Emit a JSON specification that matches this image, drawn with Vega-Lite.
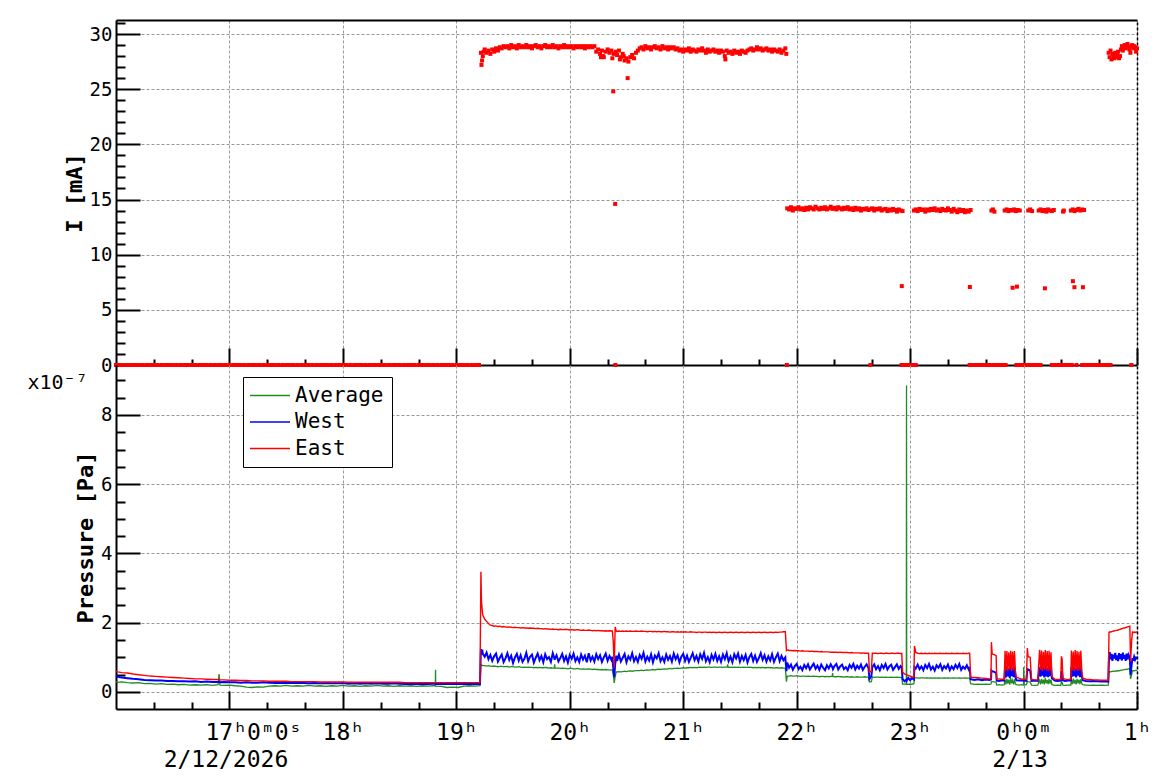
{
"$schema": "https://vega.github.io/schema/vega-lite/v6.json",
"padding": {"left": 27, "top": 20, "right": 0, "bottom": 0},
"config": {"view": {"stroke": null}, "font": "DejaVu Sans Mono",
  "axis": {"labelFont": "DejaVu Sans Mono", "titleFont": "DejaVu Sans Mono", "labelColor": "black", "titleColor": "black", "domainColor": "black", "tickColor": "black", "gridColor": "#999999", "gridDash": [3, 2], "gridWidth": 1, "tickWidth": 2, "domainWidth": 2}},
"datasets": {
"cur": [
{"m":0,"i":0},{"m":2,"i":0},{"m":4,"i":0},{"m":6,"i":0},{"m":8,"i":0},{"m":10,"i":0},{"m":12,"i":0},{"m":14,"i":0},{"m":16,"i":0},{"m":18,"i":0},{"m":20,"i":0},{"m":22,"i":0},{"m":24,"i":0},{"m":26,"i":0},{"m":28,"i":0},{"m":30,"i":0},{"m":32,"i":0},{"m":34,"i":0},{"m":36,"i":0},{"m":38,"i":0},{"m":40,"i":0},{"m":42,"i":0},{"m":44,"i":0},{"m":46,"i":0},{"m":48,"i":0},{"m":50,"i":0},{"m":52,"i":0},{"m":54,"i":0},{"m":56,"i":0},{"m":58,"i":0},{"m":60,"i":0},{"m":62,"i":0},{"m":64,"i":0},{"m":66,"i":0},{"m":68,"i":0},{"m":70,"i":0},{"m":72,"i":0},{"m":74,"i":0},{"m":76,"i":0},{"m":78,"i":0},{"m":80,"i":0},{"m":82,"i":0},{"m":84,"i":0},{"m":86,"i":0},{"m":88,"i":0},{"m":90,"i":0},{"m":92,"i":0},{"m":94,"i":0},{"m":96,"i":0},{"m":98,"i":0},{"m":100,"i":0},{"m":102,"i":0},{"m":104,"i":0},{"m":106,"i":0},{"m":108,"i":0},{"m":110,"i":0},{"m":112,"i":0},{"m":114,"i":0},{"m":116,"i":0},{"m":118,"i":0},{"m":120,"i":0},{"m":122,"i":0},{"m":124,"i":0},{"m":126,"i":0},{"m":128,"i":0},{"m":130,"i":0},{"m":132,"i":0},{"m":134,"i":0},{"m":136,"i":0},{"m":138,"i":0},{"m":140,"i":0},{"m":142,"i":0},{"m":144,"i":0},{"m":146,"i":0},{"m":148,"i":0},{"m":150,"i":0},{"m":152,"i":0},{"m":154,"i":0},{"m":156,"i":0},{"m":158,"i":0},{"m":160,"i":0},{"m":162,"i":0},{"m":164,"i":0},{"m":166,"i":0},{"m":168,"i":0},{"m":170,"i":0},{"m":172,"i":0},{"m":174,"i":0},{"m":176,"i":0},{"m":178,"i":0},{"m":180,"i":0},{"m":182,"i":0},{"m":184,"i":0},{"m":186,"i":0},{"m":188,"i":0},{"m":190,"i":0},{"m":192,"i":0},
{"m":193,"i":28.3},{"m":193.3,"i":27.2},{"m":193.6,"i":27.6},{"m":194,"i":28.0},{"m":194.5,"i":28.4},{"m":195,"i":28.6},{"m":196,"i":28.3},{"m":197,"i":28.5},{"m":198,"i":28.2},{"m":199,"i":28.6},{"m":200,"i":28.4},{"m":201,"i":28.7},{"m":202,"i":28.5},{"m":203,"i":28.8},{"m":204,"i":28.7},{"m":205,"i":28.9},{"m":206,"i":28.8},{"m":207,"i":28.9},{"m":208,"i":28.7},{"m":209,"i":29.0},{"m":210,"i":28.8},{"m":211,"i":28.9},{"m":212,"i":28.7},{"m":213,"i":29.0},{"m":214,"i":28.8},{"m":215,"i":28.9},{"m":216,"i":28.8},{"m":217,"i":29.0},{"m":218,"i":28.8},{"m":219,"i":28.9},{"m":220,"i":28.7},{"m":221,"i":28.9},{"m":222,"i":29.0},{"m":223,"i":28.8},{"m":224,"i":28.9},{"m":225,"i":28.7},{"m":226,"i":28.9},{"m":227,"i":29.0},{"m":228,"i":28.8},{"m":229,"i":28.9},{"m":230,"i":28.8},{"m":231,"i":29.0},{"m":232,"i":28.8},{"m":233,"i":28.9},{"m":234,"i":28.7},{"m":235,"i":28.9},{"m":236,"i":28.8},{"m":237,"i":29.0},{"m":238,"i":28.8},{"m":239,"i":28.9},{"m":240,"i":28.8},{"m":241,"i":28.9},{"m":242,"i":28.7},{"m":243,"i":28.9},{"m":244,"i":28.8},{"m":245,"i":28.9},{"m":246,"i":28.8},{"m":247,"i":28.9},{"m":248,"i":28.7},{"m":249,"i":28.9},{"m":250,"i":28.8},{"m":251,"i":28.9},{"m":252,"i":28.8},{"m":253,"i":28.9},
{"m":254,"i":28.4},{"m":255,"i":28.6},{"m":256,"i":28.2},{"m":256.5,"i":27.9},{"m":257,"i":28.5},{"m":257.5,"i":28.0},{"m":258,"i":27.9},{"m":259,"i":28.4},{"m":260,"i":28.6},{"m":261,"i":28.3},{"m":262,"i":28.5},{"m":262.5,"i":27.8},{"m":263,"i":24.8},{"m":263.2,"i":28.2},{"m":264,"i":14.6},{"m":264.1,"i":0},{"m":264.3,"i":28.4},{"m":265,"i":28.1},{"m":266,"i":28.5},{"m":266.5,"i":27.7},{"m":267,"i":27.9},{"m":268,"i":28.2},{"m":268.5,"i":28.0},{"m":269,"i":27.6},{"m":270,"i":27.8},{"m":270.6,"i":26.0},{"m":271,"i":27.5},{"m":272,"i":27.9},{"m":273,"i":28.1},{"m":274,"i":27.8},{"m":275,"i":28.3},{"m":276,"i":28.5},{"m":277,"i":28.7},{"m":278,"i":28.8},{"m":279,"i":28.6},{"m":280,"i":28.9},{"m":281,"i":28.7},{"m":282,"i":28.8},{"m":283,"i":28.6},{"m":284,"i":28.8},{"m":285,"i":28.9},{"m":286,"i":28.7},{"m":287,"i":28.8},{"m":288,"i":28.6},{"m":289,"i":28.9},{"m":290,"i":28.7},{"m":291,"i":28.8},{"m":292,"i":28.6},{"m":293,"i":28.8},{"m":294,"i":28.7},{"m":295,"i":28.8},{"m":296,"i":28.6},{"m":297,"i":28.7},{"m":298,"i":28.5},{"m":299,"i":28.6},{"m":300,"i":28.4},{"m":301,"i":28.6},{"m":302,"i":28.5},{"m":303,"i":28.7},{"m":304,"i":28.4},{"m":305,"i":28.6},{"m":306,"i":28.5},{"m":307,"i":28.4},{"m":308,"i":28.6},{"m":309,"i":28.5},{"m":310,"i":28.7},{"m":311,"i":28.5},{"m":312,"i":28.3},{"m":313,"i":28.6},{"m":314,"i":28.4},{"m":315,"i":28.5},{"m":316,"i":28.6},{"m":317,"i":28.4},{"m":318,"i":28.5},{"m":319,"i":28.3},{"m":320,"i":28.5},{"m":321,"i":28.4},{"m":322,"i":28.0},{"m":322.3,"i":27.7},{"m":323,"i":28.5},{"m":324,"i":28.3},{"m":325,"i":28.4},{"m":326,"i":28.2},{"m":327,"i":28.5},{"m":328,"i":28.3},{"m":329,"i":28.4},{"m":330,"i":28.2},{"m":331,"i":28.5},{"m":332,"i":28.4},{"m":333,"i":28.3},{"m":334,"i":28.5},{"m":335,"i":28.6},{"m":336,"i":28.7},{"m":337,"i":28.5},{"m":338,"i":28.6},{"m":339,"i":28.8},{"m":340,"i":28.6},{"m":341,"i":28.7},{"m":342,"i":28.5},{"m":343,"i":28.6},{"m":344,"i":28.7},{"m":345,"i":28.5},{"m":346,"i":28.6},{"m":347,"i":28.4},{"m":348,"i":28.6},{"m":349,"i":28.5},{"m":350,"i":28.4},{"m":351,"i":28.6},{"m":352,"i":28.3},{"m":353,"i":28.5},{"m":354,"i":28.7},{"m":354.5,"i":28.2},
{"m":354.8,"i":0},{"m":355,"i":14.2},{"m":356,"i":14.1},{"m":357,"i":14.3},{"m":358,"i":14.0},{"m":359,"i":14.2},{"m":360,"i":14.15},{"m":361,"i":14.3},{"m":362,"i":14.1},{"m":363,"i":14.2},{"m":364,"i":14.05},{"m":365,"i":14.25},{"m":366,"i":14.1},{"m":367,"i":14.3},{"m":368,"i":14.2},{"m":369,"i":14.1},{"m":370,"i":14.35},{"m":371,"i":14.2},{"m":372,"i":14.1},{"m":373,"i":14.25},{"m":374,"i":14.15},{"m":375,"i":14.3},{"m":376,"i":14.1},{"m":377,"i":14.2},{"m":378,"i":14.35},{"m":379,"i":14.15},{"m":380,"i":14.25},{"m":381,"i":14.1},{"m":382,"i":14.3},{"m":383,"i":14.2},{"m":384,"i":14.1},{"m":385,"i":14.25},{"m":386,"i":14.15},{"m":387,"i":14.3},{"m":388,"i":14.1},{"m":389,"i":14.2},{"m":390,"i":14.05},{"m":391,"i":14.25},{"m":392,"i":14.1},{"m":393,"i":14.2},{"m":394,"i":14.0},{"m":395,"i":14.15},{"m":396,"i":14.1},{"m":397,"i":14.2},{"m":398,"i":14.05},{"m":399,"i":0},{"m":399.5,"i":14.15},{"m":400,"i":14.2},{"m":401,"i":14.0},{"m":402,"i":14.15},{"m":403,"i":14.1},{"m":404,"i":14.2},{"m":405,"i":14.0},{"m":406,"i":14.1},{"m":407,"i":14.15},{"m":408,"i":13.95},{"m":409,"i":14.1},{"m":410,"i":14.0},{"m":411,"i":14.15},{"m":412,"i":14.05},{"m":413,"i":13.9},{"m":414,"i":14.1},{"m":415,"i":14.0},{"m":415.6,"i":7.15},{"m":416,"i":13.95},
{"m":415.5,"i":0},{"m":417,"i":0},{"m":418.5,"i":0},{"m":420,"i":0},{"m":421.5,"i":0},{"m":423,"i":0},
{"m":422,"i":14.0},{"m":423,"i":14.1},{"m":424,"i":13.95},{"m":425,"i":14.15},{"m":426,"i":14.05},{"m":427,"i":14.1},{"m":428,"i":13.9},{"m":429,"i":14.1},{"m":430,"i":14.0},{"m":431,"i":14.15},{"m":432,"i":14.05},{"m":433,"i":14.2},{"m":434,"i":14.0},{"m":435,"i":14.1},{"m":436,"i":13.95},{"m":437,"i":14.15},{"m":438,"i":14.05},{"m":439,"i":14.0},{"m":440,"i":14.2},{"m":441,"i":14.05},{"m":442,"i":13.9},{"m":443,"i":14.15},{"m":444,"i":14.0},{"m":445,"i":13.85},{"m":446,"i":14.1},{"m":447,"i":13.95},{"m":448,"i":14.05},{"m":449,"i":13.85},{"m":450,"i":14.0},{"m":451,"i":13.9},{"m":452,"i":14.05},{"m":451.6,"i":7.07},
{"m":451.5,"i":0},{"m":453,"i":0},{"m":454.5,"i":0},{"m":456,"i":0},{"m":457.5,"i":0},{"m":459,"i":0},{"m":460.5,"i":0},{"m":462,"i":0},{"m":463.5,"i":0},
{"m":463,"i":14.0},{"m":463.8,"i":14.1},{"m":464.6,"i":13.9},
{"m":465,"i":0},{"m":466.5,"i":0},{"m":468,"i":0},{"m":469.5,"i":0},{"m":470.5,"i":0},
{"m":470,"i":14.0},{"m":471,"i":14.1},{"m":472,"i":13.95},{"m":473,"i":14.05},{"m":474,"i":14.0},{"m":475,"i":14.1},{"m":476,"i":13.95},{"m":477,"i":14.05},{"m":478,"i":14.0},{"m":474.2,"i":7.0},{"m":476.5,"i":7.1},
{"m":476.2,"i":0},{"m":477.5,"i":0},{"m":479,"i":0},{"m":480.5,"i":0},{"m":482,"i":0},
{"m":482.5,"i":14.0},{"m":483.5,"i":14.1},{"m":484.5,"i":13.95},
{"m":483,"i":0},{"m":484.5,"i":0},{"m":486,"i":0},{"m":487.5,"i":0},{"m":489,"i":0},
{"m":488,"i":14.0},{"m":489,"i":14.1},{"m":490,"i":13.95},{"m":491,"i":14.05},{"m":492,"i":13.9},{"m":493,"i":14.1},{"m":494,"i":14.0},{"m":495,"i":13.95},{"m":496,"i":14.05},{"m":491.3,"i":6.95},
{"m":495,"i":0},{"m":496.5,"i":0},{"m":498,"i":0},{"m":499.5,"i":0},{"m":501,"i":0},{"m":502.5,"i":0},{"m":504,"i":0},{"m":505.5,"i":0},
{"m":500.9,"i":13.9},{"m":501.3,"i":14.0},
{"m":505,"i":14.0},{"m":506,"i":14.1},{"m":507,"i":13.95},{"m":508,"i":14.05},{"m":509,"i":14.15},{"m":510,"i":14.0},{"m":511,"i":14.1},{"m":512,"i":14.05},{"m":506.1,"i":7.6},{"m":506.9,"i":7.05},{"m":511.4,"i":7.05},
{"m":508,"i":0},{"m":511,"i":0},{"m":512.5,"i":0},{"m":514,"i":0},{"m":515.5,"i":0},{"m":517,"i":0},{"m":518.5,"i":0},{"m":520,"i":0},{"m":521.5,"i":0},{"m":523,"i":0},{"m":524.5,"i":0},{"m":526,"i":0},{"m":537,"i":0},
{"m":525,"i":28.3},{"m":525.5,"i":27.9},{"m":526,"i":28.5},{"m":526.5,"i":27.7},{"m":527,"i":28.2},{"m":527.5,"i":28.0},{"m":528,"i":27.8},{"m":528.5,"i":28.3},{"m":529,"i":27.9},{"m":529.5,"i":28.1},{"m":530,"i":28.4},{"m":530.5,"i":27.8},{"m":531,"i":28.0},{"m":531.5,"i":28.6},{"m":532,"i":28.9},{"m":532.5,"i":28.5},{"m":533,"i":28.8},{"m":533.5,"i":29.0},{"m":534,"i":28.7},{"m":534.5,"i":28.9},{"m":535,"i":29.1},{"m":535.5,"i":28.8},{"m":536,"i":28.6},{"m":536.5,"i":28.3},{"m":537,"i":28.9},{"m":537.5,"i":29.0},{"m":538,"i":28.7},{"m":538.5,"i":28.9},{"m":539,"i":28.8},{"m":539.5,"i":28.4},{"m":540,"i":28.7}
],
"p": [
{"m":0,"a":0.30,"w":0.47,"e":0.60},{"m":1,"a":0.28,"w":0.44,"e":0.58},{"m":3,"a":0.29,"w":0.42,"e":0.56},{"m":6,"a":0.27,"w":0.40,"e":0.55},{"m":9,"a":0.26,"w":0.38,"e":0.52},{"m":12,"a":0.27,"w":0.37,"e":0.50},{"m":15,"a":0.24,"w":0.35,"e":0.48},{"m":18,"a":0.25,"w":0.34,"e":0.46},{"m":21,"a":0.23,"w":0.33,"e":0.45},{"m":24,"a":0.24,"w":0.33,"e":0.44},{"m":27,"a":0.22,"w":0.32,"e":0.43},{"m":30,"a":0.23,"w":0.32,"e":0.42},{"m":33,"a":0.21,"w":0.31,"e":0.41},{"m":36,"a":0.22,"w":0.31,"e":0.40},{"m":39,"a":0.20,"w":0.30,"e":0.39},{"m":42,"a":0.21,"w":0.31,"e":0.38},{"m":45,"a":0.20,"w":0.29,"e":0.38},{"m":48,"a":0.21,"w":0.30,"e":0.37},{"m":51,"a":0.19,"w":0.29,"e":0.36},{"m":54,"a":0.21,"w":0.29,"e":0.36},{"m":54.5,"a":0.52,"w":0.30,"e":0.36},{"m":55,"a":0.20,"w":0.28,"e":0.35},{"m":57,"a":0.19,"w":0.29,"e":0.35},{"m":60,"a":0.20,"w":0.28,"e":0.34},{"m":63,"a":0.18,"w":0.28,"e":0.34},{"m":66,"a":0.17,"w":0.27,"e":0.33},{"m":69,"a":0.14,"w":0.28,"e":0.33},{"m":72,"a":0.13,"w":0.27,"e":0.32},{"m":75,"a":0.15,"w":0.27,"e":0.32},{"m":78,"a":0.14,"w":0.28,"e":0.32},{"m":81,"a":0.17,"w":0.27,"e":0.31},{"m":84,"a":0.18,"w":0.26,"e":0.31},{"m":87,"a":0.17,"w":0.27,"e":0.31},{"m":90,"a":0.19,"w":0.26,"e":0.31},{"m":93,"a":0.17,"w":0.26,"e":0.30},{"m":96,"a":0.18,"w":0.27,"e":0.30},{"m":99,"a":0.17,"w":0.26,"e":0.30},{"m":102,"a":0.19,"w":0.25,"e":0.30},{"m":105,"a":0.17,"w":0.26,"e":0.30},{"m":108,"a":0.18,"w":0.25,"e":0.29},{"m":111,"a":0.16,"w":0.26,"e":0.29},{"m":114,"a":0.18,"w":0.25,"e":0.29},{"m":117,"a":0.17,"w":0.25,"e":0.29},{"m":120,"a":0.19,"w":0.26,"e":0.29},{"m":123,"a":0.17,"w":0.24,"e":0.28},{"m":126,"a":0.18,"w":0.25,"e":0.28},{"m":129,"a":0.16,"w":0.24,"e":0.28},{"m":132,"a":0.18,"w":0.25,"e":0.28},{"m":135,"a":0.17,"w":0.24,"e":0.28},{"m":138,"a":0.19,"w":0.25,"e":0.28},{"m":141,"a":0.17,"w":0.24,"e":0.28},{"m":144,"a":0.18,"w":0.24,"e":0.28},{"m":147,"a":0.16,"w":0.25,"e":0.28},{"m":150,"a":0.18,"w":0.24,"e":0.28},{"m":153,"a":0.17,"w":0.23,"e":0.27},{"m":156,"a":0.18,"w":0.24,"e":0.27},{"m":159,"a":0.16,"w":0.23,"e":0.27},{"m":162,"a":0.18,"w":0.24,"e":0.27},{"m":165,"a":0.17,"w":0.23,"e":0.27},{"m":168,"a":0.18,"w":0.24,"e":0.27},{"m":168.9,"a":0.18,"w":0.24,"e":0.27},{"m":169,"a":0.64,"w":0.24,"e":0.27},{"m":169.1,"a":0.17,"w":0.23,"e":0.27},{"m":172,"a":0.16,"w":0.23,"e":0.27},{"m":175,"a":0.13,"w":0.24,"e":0.27},{"m":178,"a":0.14,"w":0.23,"e":0.27},{"m":181,"a":0.13,"w":0.23,"e":0.27},{"m":184,"a":0.17,"w":0.23,"e":0.27},{"m":187,"a":0.18,"w":0.24,"e":0.27},{"m":190,"a":0.17,"w":0.23,"e":0.27},{"m":192.5,"a":0.18,"w":0.23,"e":0.27},
{"m":193,"a":0.80,"w":1.24,"e":3.47},{"m":193.3,"a":0.78,"w":1.15,"e":2.63},{"m":193.8,"a":0.77,"w":1.18,"e":2.30},{"m":194,"a":0.76,"w":1.10,"e":2.22},{"m":195,"a":0.76,"w":1.02,"e":2.10},{"m":196,"a":0.75,"w":1.14,"e":2.04},{"m":197,"a":0.76,"w":0.95,"e":1.98},{"m":198,"a":0.75,"w":1.07,"e":1.93},{"m":199,"a":0.74,"w":0.90,"e":1.92},{"m":200,"a":0.75,"w":1.03,"e":1.90},{"m":201,"a":0.74,"w":1.11,"e":1.91},{"m":202,"a":0.73,"w":0.88,"e":1.89},{"m":203,"a":0.74,"w":0.99,"e":1.90},{"m":204,"a":0.74,"w":1.08,"e":1.88},{"m":205,"a":0.73,"w":0.86,"e":1.89},{"m":206,"a":0.73,"w":0.97,"e":1.88},{"m":207,"a":0.74,"w":1.12,"e":1.87},{"m":208,"a":0.72,"w":0.93,"e":1.88},{"m":209,"a":0.73,"w":1.05,"e":1.87},{"m":210,"a":0.73,"w":0.84,"e":1.86},{"m":211,"a":0.72,"w":1.00,"e":1.87},{"m":212,"a":0.72,"w":1.10,"e":1.86},{"m":213,"a":0.73,"w":0.91,"e":1.86},{"m":214,"a":0.72,"w":1.06,"e":1.85},{"m":215,"a":0.71,"w":0.87,"e":1.86},{"m":216,"a":0.72,"w":0.96,"e":1.85},{"m":217,"a":0.71,"w":1.13,"e":1.85},{"m":218,"a":0.72,"w":0.89,"e":1.84},{"m":219,"a":0.71,"w":1.02,"e":1.85},{"m":220,"a":0.71,"w":1.08,"e":1.84},{"m":221,"a":0.70,"w":0.85,"e":1.84},{"m":222,"a":0.71,"w":0.99,"e":1.83},{"m":223,"a":0.70,"w":1.11,"e":1.84},{"m":224,"a":0.71,"w":0.92,"e":1.83},{"m":225,"a":0.70,"w":1.04,"e":1.83},{"m":226,"a":0.70,"w":0.86,"e":1.82},{"m":227,"a":0.71,"w":1.09,"e":1.83},{"m":228,"a":0.70,"w":0.95,"e":1.82},{"m":229,"a":0.69,"w":1.01,"e":1.82},{"m":230,"a":0.70,"w":0.87,"e":1.81},{"m":231,"a":0.69,"w":1.12,"e":1.82},{"m":231.8,"a":0.69,"w":0.98,"e":1.81},{"m":232,"a":0.80,"w":0.93,"e":1.81},{"m":232.2,"a":0.69,"w":0.97,"e":1.81},{"m":233,"a":0.69,"w":1.06,"e":1.81},{"m":234,"a":0.69,"w":0.88,"e":1.80},{"m":235,"a":0.68,"w":0.98,"e":1.81},{"m":236,"a":0.69,"w":1.10,"e":1.80},{"m":237,"a":0.68,"w":0.90,"e":1.80},{"m":238,"a":0.68,"w":1.03,"e":1.81},{"m":239,"a":0.67,"w":0.85,"e":1.80},{"m":240,"a":0.68,"w":1.07,"e":1.79},{"m":241,"a":0.68,"w":0.96,"e":1.80},{"m":242,"a":0.67,"w":1.11,"e":1.79},{"m":243,"a":0.67,"w":0.89,"e":1.79},{"m":244,"a":0.68,"w":1.00,"e":1.80},{"m":245,"a":0.67,"w":0.87,"e":1.79},{"m":246,"a":0.66,"w":1.08,"e":1.78},{"m":247,"a":0.67,"w":0.94,"e":1.79},{"m":248,"a":0.66,"w":1.05,"e":1.78},{"m":249,"a":0.66,"w":0.86,"e":1.78},{"m":250,"a":0.67,"w":1.12,"e":1.79},{"m":251,"a":0.66,"w":0.91,"e":1.78},{"m":252,"a":0.65,"w":1.02,"e":1.77},{"m":253,"a":0.66,"w":0.88,"e":1.78},{"m":254,"a":0.65,"w":1.09,"e":1.77},{"m":255,"a":0.65,"w":0.95,"e":1.78},{"m":256,"a":0.64,"w":1.06,"e":1.77},{"m":257,"a":0.65,"w":0.87,"e":1.77},{"m":258,"a":0.64,"w":1.00,"e":1.76},{"m":259,"a":0.65,"w":1.11,"e":1.77},{"m":260,"a":0.64,"w":0.90,"e":1.76},{"m":261,"a":0.64,"w":1.04,"e":1.77},{"m":262,"a":0.63,"w":0.93,"e":1.76},{"m":262.5,"a":0.64,"w":1.02,"e":1.76},{"m":263,"a":0.50,"w":0.70,"e":1.47},{"m":263.5,"a":0.26,"w":0.43,"e":0.70},{"m":264,"a":0.45,"w":0.80,"e":1.88},{"m":264.6,"a":0.58,"w":1.05,"e":1.76},{"m":265,"a":0.58,"w":0.90,"e":1.75},{"m":266,"a":0.59,"w":1.08,"e":1.76},{"m":267,"a":0.58,"w":0.88,"e":1.75},{"m":268,"a":0.59,"w":0.99,"e":1.76},{"m":269,"a":0.60,"w":1.10,"e":1.75},{"m":270,"a":0.59,"w":0.86,"e":1.76},{"m":271,"a":0.60,"w":1.03,"e":1.75},{"m":272,"a":0.61,"w":0.94,"e":1.76},{"m":273,"a":0.60,"w":1.12,"e":1.75},{"m":274,"a":0.61,"w":0.89,"e":1.75},{"m":275,"a":0.62,"w":1.01,"e":1.76},{"m":276,"a":0.62,"w":0.87,"e":1.75},{"m":277,"a":0.62,"w":1.07,"e":1.75},{"m":278,"a":0.63,"w":0.96,"e":1.76},{"m":279,"a":0.62,"w":1.13,"e":1.75},{"m":280,"a":0.63,"w":0.88,"e":1.75},{"m":281,"a":0.64,"w":1.02,"e":1.74},{"m":282,"a":0.63,"w":0.91,"e":1.75},{"m":283,"a":0.64,"w":1.09,"e":1.75},{"m":284,"a":0.65,"w":0.86,"e":1.74},{"m":285,"a":0.64,"w":1.05,"e":1.75},{"m":286,"a":0.65,"w":0.97,"e":1.74},{"m":287,"a":0.66,"w":1.12,"e":1.75},{"m":288,"a":0.65,"w":0.89,"e":1.74},{"m":289,"a":0.66,"w":1.00,"e":1.74},{"m":290,"a":0.67,"w":0.87,"e":1.75},{"m":291,"a":0.66,"w":1.08,"e":1.74},{"m":292,"a":0.67,"w":0.93,"e":1.74},{"m":293,"a":0.68,"w":1.04,"e":1.73},{"m":294,"a":0.67,"w":0.88,"e":1.74},{"m":295,"a":0.68,"w":1.11,"e":1.74},{"m":296,"a":0.68,"w":0.95,"e":1.73},{"m":297,"a":0.69,"w":1.06,"e":1.74},{"m":298,"a":0.68,"w":0.86,"e":1.73},{"m":299,"a":0.69,"w":1.02,"e":1.74},{"m":300,"a":0.70,"w":1.10,"e":1.73},{"m":301,"a":0.69,"w":0.90,"e":1.74},{"m":302,"a":0.70,"w":1.05,"e":1.73},{"m":303,"a":0.70,"w":0.87,"e":1.73},{"m":304,"a":0.71,"w":0.99,"e":1.74},{"m":305,"a":0.70,"w":1.12,"e":1.73},{"m":306,"a":0.71,"w":0.92,"e":1.73},{"m":307,"a":0.70,"w":1.04,"e":1.72},{"m":308,"a":0.71,"w":0.88,"e":1.73},{"m":309,"a":0.72,"w":1.09,"e":1.73},{"m":310,"a":0.71,"w":0.96,"e":1.72},{"m":311,"a":0.72,"w":1.13,"e":1.73},{"m":312,"a":0.71,"w":0.89,"e":1.73},{"m":313,"a":0.72,"w":1.01,"e":1.72},{"m":314,"a":0.72,"w":0.86,"e":1.73},{"m":315,"a":0.71,"w":1.07,"e":1.72},{"m":316,"a":0.72,"w":0.94,"e":1.73},{"m":317,"a":0.72,"w":1.10,"e":1.72},{"m":318,"a":0.71,"w":0.90,"e":1.72},{"m":319,"a":0.72,"w":1.03,"e":1.73},{"m":320,"a":0.72,"w":0.87,"e":1.72},{"m":321,"a":0.71,"w":1.08,"e":1.72},{"m":322,"a":0.72,"w":0.95,"e":1.73},{"m":323,"a":0.72,"w":1.12,"e":1.72},{"m":323.3,"a":0.72,"w":1.04,"e":1.72},{"m":323.5,"a":0.80,"w":1.00,"e":1.72},{"m":323.7,"a":0.72,"w":0.95,"e":1.72},{"m":324,"a":0.71,"w":0.89,"e":1.72},{"m":325,"a":0.72,"w":1.02,"e":1.73},{"m":326,"a":0.71,"w":0.86,"e":1.72},{"m":327,"a":0.72,"w":1.09,"e":1.72},{"m":328,"a":0.71,"w":0.97,"e":1.73},{"m":329,"a":0.72,"w":1.11,"e":1.72},{"m":330,"a":0.71,"w":0.88,"e":1.72},{"m":331,"a":0.71,"w":1.04,"e":1.73},{"m":332,"a":0.72,"w":0.92,"e":1.72},{"m":333,"a":0.71,"w":1.07,"e":1.72},{"m":334,"a":0.71,"w":0.85,"e":1.73},{"m":335,"a":0.72,"w":1.01,"e":1.72},{"m":336,"a":0.71,"w":1.10,"e":1.72},{"m":337,"a":0.70,"w":0.90,"e":1.73},{"m":338,"a":0.71,"w":1.05,"e":1.72},{"m":339,"a":0.70,"w":0.87,"e":1.72},{"m":340,"a":0.71,"w":0.98,"e":1.73},{"m":341,"a":0.70,"w":1.12,"e":1.72},{"m":342,"a":0.71,"w":0.93,"e":1.72},{"m":343,"a":0.70,"w":1.06,"e":1.73},{"m":344,"a":0.70,"w":0.88,"e":1.72},{"m":345,"a":0.71,"w":1.03,"e":1.72},{"m":346,"a":0.70,"w":0.91,"e":1.73},{"m":347,"a":0.70,"w":1.09,"e":1.72},{"m":348,"a":0.69,"w":0.87,"e":1.72},{"m":349,"a":0.70,"w":1.00,"e":1.73},{"m":350,"a":0.70,"w":1.11,"e":1.72},{"m":351,"a":0.69,"w":0.89,"e":1.73},{"m":352,"a":0.70,"w":1.04,"e":1.73},{"m":353,"a":0.69,"w":0.92,"e":1.74},{"m":354,"a":0.69,"w":1.00,"e":1.74},
{"m":354.6,"a":0.30,"w":0.60,"e":1.20},{"m":355,"a":0.46,"w":0.85,"e":1.22},{"m":356,"a":0.46,"w":0.70,"e":1.20},{"m":357,"a":0.47,"w":0.79,"e":1.20},{"m":358,"a":0.46,"w":0.64,"e":1.19},{"m":359,"a":0.46,"w":0.75,"e":1.20},{"m":360,"a":0.47,"w":0.81,"e":1.19},{"m":361,"a":0.46,"w":0.66,"e":1.19},{"m":362,"a":0.45,"w":0.73,"e":1.18},{"m":363,"a":0.46,"w":0.63,"e":1.19},{"m":364,"a":0.46,"w":0.78,"e":1.18},{"m":365,"a":0.45,"w":0.69,"e":1.18},{"m":366,"a":0.46,"w":0.80,"e":1.18},{"m":367,"a":0.45,"w":0.65,"e":1.17},{"m":368,"a":0.45,"w":0.74,"e":1.18},{"m":369,"a":0.46,"w":0.82,"e":1.17},{"m":370,"a":0.45,"w":0.67,"e":1.17},{"m":371,"a":0.45,"w":0.76,"e":1.17},{"m":372,"a":0.44,"w":0.64,"e":1.16},{"m":373,"a":0.45,"w":0.79,"e":1.17},{"m":374,"a":0.45,"w":0.70,"e":1.16},{"m":375,"a":0.44,"w":0.63,"e":1.16},{"m":376,"a":0.45,"w":0.77,"e":1.16},{"m":377,"a":0.44,"w":0.68,"e":1.16},{"m":378,"a":0.45,"w":0.80,"e":1.15},{"m":378.8,"a":0.45,"w":0.72,"e":1.15},{"m":379,"a":0.55,"w":0.70,"e":1.15},{"m":379.2,"a":0.45,"w":0.66,"e":1.15},{"m":380,"a":0.44,"w":0.75,"e":1.15},{"m":381,"a":0.44,"w":0.81,"e":1.15},{"m":382,"a":0.45,"w":0.65,"e":1.14},{"m":383,"a":0.44,"w":0.74,"e":1.15},{"m":384,"a":0.44,"w":0.79,"e":1.14},{"m":385,"a":0.43,"w":0.66,"e":1.14},{"m":386,"a":0.44,"w":0.72,"e":1.14},{"m":387,"a":0.44,"w":0.63,"e":1.14},{"m":388,"a":0.43,"w":0.78,"e":1.13},{"m":389,"a":0.44,"w":0.70,"e":1.14},{"m":390,"a":0.43,"w":0.81,"e":1.13},{"m":391,"a":0.43,"w":0.65,"e":1.13},{"m":392,"a":0.44,"w":0.76,"e":1.13},{"m":393,"a":0.43,"w":0.68,"e":1.13},{"m":394,"a":0.43,"w":0.79,"e":1.12},{"m":395,"a":0.43,"w":0.64,"e":1.13},{"m":396,"a":0.44,"w":0.73,"e":1.12},{"m":397,"a":0.43,"w":0.80,"e":1.12},{"m":398,"a":0.43,"w":0.69,"e":1.12},{"m":398.5,"a":0.29,"w":0.38,"e":0.58},{"m":399.5,"a":0.30,"w":0.45,"e":0.60},{"m":400,"a":0.43,"w":0.72,"e":1.12},{"m":401,"a":0.42,"w":0.80,"e":1.12},{"m":402,"a":0.43,"w":0.66,"e":1.12},{"m":403,"a":0.43,"w":0.75,"e":1.11},{"m":404,"a":0.42,"w":0.63,"e":1.12},{"m":405,"a":0.43,"w":0.78,"e":1.12},{"m":406,"a":0.42,"w":0.69,"e":1.11},{"m":407,"a":0.43,"w":0.81,"e":1.12},{"m":408,"a":0.42,"w":0.65,"e":1.12},{"m":409,"a":0.42,"w":0.74,"e":1.11},{"m":410,"a":0.43,"w":0.79,"e":1.12},{"m":411,"a":0.42,"w":0.64,"e":1.12},{"m":412,"a":0.42,"w":0.72,"e":1.11},{"m":413,"a":0.43,"w":0.80,"e":1.12},{"m":414,"a":0.42,"w":0.67,"e":1.12},{"m":415,"a":0.42,"w":0.75,"e":1.11},{"m":415.6,"a":0.42,"w":0.70,"e":1.11},{"m":416,"a":0.23,"w":0.38,"e":0.58},{"m":417,"a":0.23,"w":0.31,"e":0.52},{"m":418,"a":0.23,"w":0.36,"e":0.50},{"m":418.1,"a":8.85,"w":0.35,"e":0.50},{"m":418.2,"a":0.22,"w":0.33,"e":0.49},{"m":419,"a":0.22,"w":0.41,"e":0.48},{"m":420,"a":0.23,"w":0.34,"e":0.46},{"m":421,"a":0.22,"w":0.40,"e":0.44},{"m":422,"a":0.24,"w":0.36,"e":0.43},{"m":422.3,"a":0.42,"w":0.72,"e":1.33},{"m":423,"a":0.41,"w":0.68,"e":1.14},{"m":424,"a":0.41,"w":0.79,"e":1.12},{"m":425,"a":0.40,"w":0.66,"e":1.11},{"m":426,"a":0.41,"w":0.74,"e":1.12},{"m":427,"a":0.41,"w":0.63,"e":1.11},{"m":428,"a":0.40,"w":0.78,"e":1.12},{"m":429,"a":0.41,"w":0.69,"e":1.11},{"m":430,"a":0.40,"w":0.81,"e":1.12},{"m":431,"a":0.41,"w":0.65,"e":1.11},{"m":432,"a":0.40,"w":0.73,"e":1.11},{"m":433,"a":0.41,"w":0.62,"e":1.12},{"m":434,"a":0.40,"w":0.77,"e":1.11},{"m":435,"a":0.41,"w":0.70,"e":1.11},{"m":436,"a":0.40,"w":0.80,"e":1.12},{"m":437,"a":0.40,"w":0.64,"e":1.11},{"m":438,"a":0.41,"w":0.75,"e":1.11},{"m":439,"a":0.40,"w":0.68,"e":1.12},{"m":440,"a":0.41,"w":0.79,"e":1.11},{"m":441,"a":0.40,"w":0.63,"e":1.11},{"m":442,"a":0.40,"w":0.74,"e":1.12},{"m":443,"a":0.41,"w":0.66,"e":1.11},{"m":444,"a":0.40,"w":0.78,"e":1.11},{"m":445,"a":0.40,"w":0.69,"e":1.12},{"m":446,"a":0.41,"w":0.81,"e":1.11},{"m":447,"a":0.40,"w":0.64,"e":1.11},{"m":448,"a":0.40,"w":0.73,"e":1.12},{"m":449,"a":0.41,"w":0.67,"e":1.11},{"m":450,"a":0.40,"w":0.77,"e":1.11},{"m":451,"a":0.40,"w":0.65,"e":1.12},{"m":451.5,"a":0.40,"w":0.72,"e":1.12},
{"m":452,"a":0.24,"w":0.37,"e":0.43},{"m":454,"a":0.22,"w":0.35,"e":0.42},{"m":456,"a":0.23,"w":0.37,"e":0.41},{"m":458,"a":0.22,"w":0.34,"e":0.40},{"m":460,"a":0.23,"w":0.36,"e":0.39},{"m":462,"a":0.22,"w":0.35,"e":0.38},{"m":462.8,"a":0.23,"w":0.36,"e":0.38},{"m":463,"a":0.30,"w":0.62,"e":1.44},{"m":463.4,"a":0.30,"w":0.60,"e":1.10},{"m":464.5,"a":0.29,"w":0.58,"e":1.08},{"m":465.5,"a":0.28,"w":0.55,"e":1.05},{"m":465.8,"a":0.20,"w":0.33,"e":0.38},{"m":467,"a":0.21,"w":0.32,"e":0.38},{"m":468.5,"a":0.20,"w":0.34,"e":0.37},{"m":469.8,"a":0.21,"w":0.33,"e":0.37},{"m":470.2,"a":0.35,"w":0.70,"e":1.19},{"m":470.7,"a":0.22,"w":0.42,"e":0.62},{"m":471.2,"a":0.38,"w":0.74,"e":1.18},{"m":471.7,"a":0.24,"w":0.45,"e":0.60},{"m":472.2,"a":0.36,"w":0.68,"e":1.15},{"m":472.7,"a":0.21,"w":0.40,"e":0.65},{"m":473.2,"a":0.40,"w":0.75,"e":1.19},{"m":473.7,"a":0.25,"w":0.46,"e":0.61},{"m":474.2,"a":0.34,"w":0.70,"e":1.17},{"m":474.7,"a":0.22,"w":0.43,"e":0.63},{"m":475.2,"a":0.37,"w":0.72,"e":1.18},{"m":475.7,"a":0.23,"w":0.44,"e":0.60},{"m":476.2,"a":0.21,"w":0.34,"e":0.43},{"m":477.5,"a":0.20,"w":0.33,"e":0.40},{"m":479,"a":0.21,"w":0.34,"e":0.38},{"m":480,"a":0.20,"w":0.33,"e":0.37},{"m":480.1,"a":0.72,"w":0.34,"e":0.37},{"m":480.3,"a":0.20,"w":0.33,"e":0.37},{"m":481.5,"a":0.21,"w":0.32,"e":0.36},{"m":482,"a":0.31,"w":0.66,"e":1.27},{"m":482.4,"a":0.30,"w":0.65,"e":1.02},{"m":483.5,"a":0.29,"w":0.62,"e":1.00},{"m":484.2,"a":0.20,"w":0.32,"e":0.36},{"m":486,"a":0.19,"w":0.33,"e":0.35},{"m":487.5,"a":0.20,"w":0.32,"e":0.35},{"m":488.5,"a":0.34,"w":0.72,"e":1.22},{"m":489,"a":0.22,"w":0.44,"e":0.64},{"m":489.5,"a":0.38,"w":0.78,"e":1.20},{"m":490,"a":0.24,"w":0.47,"e":0.60},{"m":490.5,"a":0.36,"w":0.73,"e":1.16},{"m":491,"a":0.22,"w":0.42,"e":0.65},{"m":491.5,"a":0.40,"w":0.80,"e":1.21},{"m":492,"a":0.25,"w":0.45,"e":0.62},{"m":492.5,"a":0.35,"w":0.70,"e":1.18},{"m":493,"a":0.23,"w":0.43,"e":0.60},{"m":493.5,"a":0.38,"w":0.76,"e":1.19},{"m":494,"a":0.24,"w":0.46,"e":0.63},{"m":494.5,"a":0.36,"w":0.71,"e":1.15},{"m":495,"a":0.21,"w":0.40,"e":0.45},{"m":496.5,"a":0.19,"w":0.33,"e":0.37},{"m":498,"a":0.20,"w":0.32,"e":0.36},{"m":499.7,"a":0.19,"w":0.33,"e":0.36},{"m":500,"a":0.30,"w":0.60,"e":1.03},{"m":500.4,"a":0.28,"w":0.55,"e":0.95},{"m":500.8,"a":0.20,"w":0.34,"e":0.40},{"m":502,"a":0.19,"w":0.32,"e":0.37},{"m":503.5,"a":0.20,"w":0.33,"e":0.36},{"m":505,"a":0.20,"w":0.33,"e":0.36},{"m":505.3,"a":0.36,"w":0.72,"e":1.20},{"m":505.8,"a":0.23,"w":0.44,"e":0.62},{"m":506.3,"a":0.39,"w":0.76,"e":1.17},{"m":506.8,"a":0.24,"w":0.46,"e":0.60},{"m":507.3,"a":0.35,"w":0.70,"e":1.21},{"m":507.8,"a":0.22,"w":0.42,"e":0.64},{"m":508.3,"a":0.38,"w":0.75,"e":1.18},{"m":508.8,"a":0.25,"w":0.47,"e":0.61},{"m":509.3,"a":0.36,"w":0.71,"e":1.16},{"m":509.8,"a":0.23,"w":0.43,"e":0.63},{"m":510.3,"a":0.37,"w":0.74,"e":1.19},{"m":510.8,"a":0.24,"w":0.45,"e":0.60},{"m":511.3,"a":0.21,"w":0.34,"e":0.40},{"m":513,"a":0.20,"w":0.32,"e":0.37},{"m":515,"a":0.19,"w":0.31,"e":0.36},{"m":517,"a":0.20,"w":0.32,"e":0.35},{"m":519,"a":0.19,"w":0.31,"e":0.35},{"m":521,"a":0.20,"w":0.30,"e":0.34},{"m":523,"a":0.19,"w":0.31,"e":0.34},{"m":524.8,"a":0.20,"w":0.30,"e":0.34},
{"m":525.2,"a":0.58,"w":1.02,"e":1.73},{"m":525.6,"a":0.59,"w":1.15,"e":1.74},{"m":526,"a":0.58,"w":0.94,"e":1.73},{"m":526.5,"a":0.59,"w":1.10,"e":1.74},{"m":527,"a":0.60,"w":0.90,"e":1.75},{"m":527.5,"a":0.59,"w":1.08,"e":1.76},{"m":528,"a":0.60,"w":0.97,"e":1.76},{"m":528.5,"a":0.61,"w":1.13,"e":1.77},{"m":529,"a":0.60,"w":0.92,"e":1.78},{"m":529.5,"a":0.61,"w":1.06,"e":1.78},{"m":530,"a":0.62,"w":0.89,"e":1.79},{"m":530.5,"a":0.61,"w":1.12,"e":1.80},{"m":531,"a":0.62,"w":0.95,"e":1.81},{"m":531.5,"a":0.63,"w":1.09,"e":1.82},{"m":532,"a":0.63,"w":0.91,"e":1.83},{"m":532.5,"a":0.64,"w":1.14,"e":1.84},{"m":533,"a":0.64,"w":0.96,"e":1.85},{"m":533.5,"a":0.65,"w":1.07,"e":1.85},{"m":534,"a":0.66,"w":0.90,"e":1.86},{"m":534.5,"a":0.65,"w":1.11,"e":1.87},{"m":535,"a":0.66,"w":0.94,"e":1.88},{"m":535.5,"a":0.67,"w":1.08,"e":1.89},{"m":536.2,"a":0.68,"w":1.00,"e":1.90},{"m":536.6,"a":0.38,"w":0.50,"e":0.87},{"m":537.2,"a":0.50,"w":0.80,"e":1.50},{"m":537.6,"a":0.62,"w":0.98,"e":1.73},{"m":538,"a":0.62,"w":0.90,"e":1.72},{"m":538.5,"a":0.61,"w":1.02,"e":1.73},{"m":539,"a":0.62,"w":0.93,"e":1.72},{"m":539.5,"a":0.63,"w":0.99,"e":1.73},{"m":540,"a":0.62,"w":0.95,"e":1.72}
]
},
"spacing": 0,
"bounds": "flush",
"vconcat": [
{
 "width": 1021, "height": 345,
 "data": {"name": "cur"},
 "layer": [
  {"mark": {"type": "square", "color": "#ff0000", "size": 16, "opacity": 1},
   "encoding": {
    "x": {"field": "m", "type": "quantitative", "scale": {"domain": [0, 540], "nice": false, "zero": false},
      "axis": {"orient": "bottom", "values": [60,120,180,240,300,360,420,480,540], "labels": false, "title": null, "tickSize": -17, "grid": true}},
    "y": {"field": "i", "type": "quantitative", "scale": {"domain": [0, 31.27], "nice": false, "zero": false},
      "axis": {"orient": "left", "values": [0,5,10,15,20,25,30], "title": "I [mA]", "titleFontSize": 22, "titleFontWeight": "bold", "titlePadding": 3, "labelFontSize": 19, "tickSize": -24, "labelPadding": 28, "grid": true}}
   }},
  {"mark": {"type": "square", "opacity": 0},
   "encoding": {
    "x": {"field": "m", "type": "quantitative", "axis": {"orient": "bottom", "values": [20,40,80,100,140,160,200,220,260,280,320,340,380,400,440,460,500,520], "labels": false, "title": null, "tickSize": -6, "domain": false, "grid": false}},
    "y": {"field": "i", "type": "quantitative", "axis": {"orient": "left", "values": [1,2,3,4,6,7,8,9,11,12,13,14,16,17,18,19,21,22,23,24,26,27,28,29,31], "labels": false, "title": null, "tickSize": -9, "domain": false, "grid": false}}
   }},
  {"mark": {"type": "square", "opacity": 0},
   "encoding": {
    "x": {"field": "m", "type": "quantitative", "axis": {"orient": "top", "labels": false, "ticks": false, "title": null, "grid": false, "domainWidth": 2}},
    "y": {"field": "i", "type": "quantitative", "axis": {"orient": "right", "labels": false, "ticks": false, "title": null, "grid": false, "domainWidth": 1.5, "domainDash": [3, 2]}}
   }}
 ],
 "resolve": {"axis": {"x": "independent", "y": "independent"}}
},
{
 "width": 1021, "height": 344,
 "data": {"name": "p"},
 "layer": [
  {"mark": {"type": "line", "strokeWidth": 1.3},
   "encoding": {
    "x": {"field": "m", "type": "quantitative", "scale": {"domain": [0, 540], "nice": false, "zero": false},
      "axis": {"orient": "bottom", "values": [60,120,180,240,300,360,420,480,540], "title": null, "tickSize": -18, "labelPadding": 30, "labelFontSize": 23, "labelBaseline": "top", "labelFlush": false, "labelOverlap": false, "labelBound": false,
        "labelExpr": "datum.value == 60 ? '17\u02b00\u1d500\u02e2' : datum.value == 480 ? '0\u02b00\u1d50' : ((16 + datum.value / 60) % 24) + '\u02b0'", "grid": true,
        "labelOffset": {"condition": {"test": "datum.value == 60", "value": 24}, "value": 0}}},
    "y": {"field": "a", "type": "quantitative", "scale": {"domain": [-0.491, 9.444], "nice": false, "zero": false},
      "axis": {"orient": "left", "values": [0,2,4,6,8], "title": "Pressure [Pa]", "titleFontSize": 22, "titleFontWeight": "bold", "titlePadding": 3, "labelFontSize": 19, "tickSize": -24, "labelPadding": 28, "grid": true}},
    "color": {"datum": "Average", "type": "nominal", "scale": {"domain": ["Average", "West", "East"], "range": ["#228b22", "#0000ff", "#ff0000"]},
      "legend": {"orient": "none", "legendX": 127, "legendY": 357, "title": null, "symbolType": "M-4.6,0H11.4", "symbolSize": 25, "symbolStrokeWidth": 1.3, "labelFontSize": 21, "labelFont": "DejaVu Sans Mono", "labelColor": "black", "labelOffset": 23, "strokeColor": "black", "fillColor": "white", "padding": 8, "rowPadding": 4.5, "labelLimit": 0}}
   }},
  {"mark": {"type": "line", "strokeWidth": 2},
   "encoding": {
    "x": {"field": "m", "type": "quantitative", "axis": {"orient": "bottom", "values": [20,40,80,100,140,160,200,220,260,280,320,340,380,400,440,460,500,520], "labels": false, "title": null, "tickSize": -7, "domain": false, "grid": false}},
    "y": {"field": "w", "type": "quantitative", "axis": {"orient": "left", "values": [0.5,1,1.5,2.5,3,3.5,4.5,5,5.5,6.5,7,7.5,8.5,9], "labels": false, "tickSize": -9, "domain": false, "grid": false,
      "title": "x10\u207b\u2077", "titleAngle": 0, "titleAlign": "left", "titleBaseline": "alphabetic", "titleX": -89, "titleY": 23, "titleFontSize": 20, "titleFontWeight": "normal"}},
    "color": {"datum": "West", "type": "nominal"}
   }},
  {"mark": {"type": "line", "strokeWidth": 1.4},
   "encoding": {
    "x": {"field": "m", "type": "quantitative", "axis": {"orient": "bottom", "values": [60, 480], "title": null, "ticks": false, "tickSize": 0, "domain": false, "grid": false, "labelPadding": 39, "labelFontSize": 23, "labelBaseline": "top", "labelFlush": false, "labelOverlap": false, "labelBound": false, "labelOffset": -4,
      "labelExpr": "datum.value == 60 ? '2/12/2026' : '2/13'"}},
    "y": {"field": "e", "type": "quantitative", "axis": {"orient": "right", "labels": false, "ticks": false, "title": null, "grid": false, "domainWidth": 1.5, "domainDash": [3, 2]}},
    "color": {"datum": "East", "type": "nominal"}
   }}
 ],
 "resolve": {"axis": {"x": "independent", "y": "independent"}}
}
]
}
